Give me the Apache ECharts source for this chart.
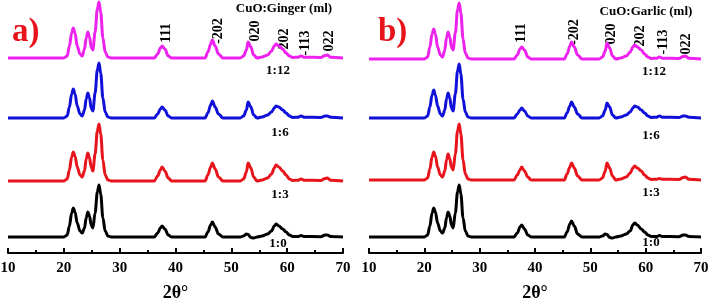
<!DOCTYPE html>
<html>
<head>
<meta charset="utf-8">
<script src="https://cdn.jsdelivr.net/npm/echarts@6/dist/echarts.min.js"></script>
<style>
  html, body { margin: 0; padding: 0; background: #fff; }
  #main { width: 708px; height: 300px; }
</style>
</head>
<body>
<div id="main"></div>
<script>
// shared 2theta sampling points (deg)
const twoTheta = [10, 20, 20.6, 21.0, 21.4, 21.7, 22.0, 22.4, 22.9, 23.3,
  23.7, 24.0, 24.3, 24.6, 24.9, 25.2, 25.6, 26.0, 26.3, 26.6,
  27.0, 27.4, 27.9, 28.5, 36.2, 36.8, 37.3, 37.6, 38.1, 38.7,
  39.3, 45.3, 45.8, 46.3, 46.6, 47.1, 47.7, 48.5, 51.6, 52.2,
  52.7, 53.0, 53.5, 54.0, 54.6, 55.5, 56.5, 57.2, 57.7, 58.0,
  58.5, 59.2, 59.8, 60.4, 61.0, 62.0, 62.5, 63.0, 66.0, 66.8,
  67.2, 67.8, 70];

const ratios = ['1:0', '1:3', '1:6', '1:12'];
const colors = ['#000000', '#e8141b', '#1010d8', '#ee22ee'];

// panel a) CuO:Ginger
const ginger_1_0 = [0, 0, 2, 11, 24, 29, 25, 14, 6, 4,
  9, 19, 25, 21, 12, 9, 24, 45, 52, 43,
  19, 6, 1, 0, 0, 4, 9, 11, 8, 2,
  0, 0, 5, 12, 15, 10, 3, 0, 0, 1,
  3, 2.5, -0.5, -1, 0, 1, 3, 6, 11, 13,
  11, 8, 5, 2, 0.5, 0.5, 1.5, 0.5, 0.3, 2,
  2, 0.5, 0];
const ginger_1_3 = [0, 0, 2, 11, 24, 29, 25, 14, 6, 4,
  10, 22, 28, 23, 14, 10, 27, 50, 57, 47,
  21, 6, 1, 0, 0, 5, 11, 14, 10, 3,
  0, 0, 6, 14, 18, 12, 4, 0, 0, 2,
  9, 18, 13, 4, 0, 1, 3, 7, 13, 16,
  14, 10, 6, 2, 0.5, 0.8, 2, 0.8, 0.5, 2.5,
  3, 0.8, 0];
const ginger_1_6 = [0, 0, 2, 11, 24, 29, 24, 12, 4, 2,
  8, 19, 25, 20, 10, 7, 25, 48, 55, 45,
  20, 6, 1, 0, 0, 4, 9, 11, 8, 2,
  0, 0, 5, 13, 17, 11, 4, 0, 0, 2,
  8, 16, 11, 3, 0, 1, 3, 6, 10, 12,
  11, 8, 5, 2, 0.5, 0.8, 2, 0.8, 0.5, 2,
  2, 0.8, 0];
const ginger_1_12 = [0, 0, 2, 12, 25, 30, 25, 12, 4, 2,
  9, 20, 26, 21, 11, 8, 26, 49, 56, 46,
  20, 6, 1, 0, 0, 4, 10, 12, 9, 2,
  0, 0, 6, 14, 18, 12, 4, 0, 0, 2,
  8, 16, 11, 3, 0, 1, 3, 7, 12, 14,
  12, 9, 5, 2, 0.5, 0.8, 2, 0.8, 0.5, 2.5,
  3, 0.8, 0];

// panel b) CuO:Garlic
const garlic_1_0 = [0, 0, 2, 11, 24, 29, 25, 14, 6, 4,
  9, 19, 25, 21, 12, 9, 24, 45, 52, 43,
  19, 6, 1, 0, 0, 4, 10, 12, 8, 2,
  0, 0, 5, 13, 16, 11, 3, 0, 0, 1,
  3, 2.5, -0.5, -1, 0, 1, 3, 6, 12, 14,
  12, 8, 5, 2, 0.5, 0.5, 1.5, 0.5, 0.3, 2,
  2, 0.5, 0];
const garlic_1_3 = [0, 0, 2, 11, 23, 28, 24, 13, 5, 3,
  9, 20, 26, 21, 13, 10, 26, 49, 56, 46,
  20, 6, 1, 0, 0, 5, 10, 13, 9, 3,
  0, 0, 6, 13, 17, 12, 4, 0, 0, 2,
  9, 17, 12, 4, 0, 1, 3, 7, 12, 14,
  12, 9, 5, 2, 0.5, 0.8, 1.5, 0.8, 0.5, 2.5,
  3, 0.8, 0];
const garlic_1_6 = [0, 0, 2, 11, 23, 28, 23, 12, 4, 2,
  8, 19, 25, 20, 10, 7, 24, 47, 54, 44,
  19, 6, 1, 0, 0, 4, 8, 10, 7, 2,
  0, 0, 5, 12, 16, 11, 4, 0, 0, 2,
  8, 15, 11, 3, 0, 1, 3, 6, 10, 12,
  11, 8, 5, 2, 0.5, 0.8, 2, 0.8, 0.5, 2,
  2, 0.8, 0];
const garlic_1_12 = [0, 0, 2, 12, 25, 30, 25, 12, 4, 2,
  9, 21, 27, 22, 12, 9, 26, 49, 56, 46,
  20, 6, 1, 0, 0, 4, 10, 12, 9, 2,
  0, 0, 5, 13, 17, 12, 4, 0, 0, 2,
  8, 16, 11, 3, 0, 1, 3, 7, 12, 14,
  12, 9, 5, 2, 0.5, 0.8, 2, 0.8, 0.5, 2.5,
  3, 0.8, 0];

const gingerCurves = [ginger_1_0, ginger_1_3, ginger_1_6, ginger_1_12];
const garlicCurves = [garlic_1_0, garlic_1_3, garlic_1_6, garlic_1_12];
// vertical offset of each pattern in the stack
const gingerOffsets = [0, 56, 119, 179];
const garlicOffsets = [0, 57, 119, 178];

const peakNames = ['111', '-202', '020', '202', '-113', '022'];

const serif = '"Liberation Serif", "Times New Roman", serif';

function xAxisOf(idx) {
  return {
    gridIndex: idx, type: 'value', min: 10, max: 70, interval: 10,
    name: '2θ°', nameLocation: 'middle', nameGap: 31,
    nameTextStyle: { fontFamily: serif, fontSize: 18, fontWeight: 'bold', color: '#000' },
    axisLine: { show: true, onZero: false, lineStyle: { color: '#000', width: 2 } },
    axisTick: { show: true, inside: true, length: 5, lineStyle: { color: '#000', width: 2 } },
    minorTick: { show: true, splitNumber: 2, length: 3, lineStyle: { color: '#000', width: 2 } },
    axisLabel: { fontFamily: serif, fontWeight: 'bold', fontSize: 15, color: '#000', margin: 8 },
    splitLine: { show: false }
  };
}
function yAxisOf(idx) {
  return { gridIndex: idx, type: 'value', min: -16, max: 237, show: false, splitLine: { show: false } };
}

let series = [];
[[gingerCurves, gingerOffsets], [garlicCurves, garlicOffsets]].forEach(function (p, gi) {
  p[0].forEach(function (vals, i) {
    series.push({
      name: ratios[i], type: 'line', xAxisIndex: gi, yAxisIndex: gi,
      showSymbol: false, smooth: 0.35, smoothMonotone: 'x',
      lineStyle: { color: colors[i], width: 3 },
      data: twoTheta.map(function (t, k) { return [t, vals[k] + p[1][i]]; })
    });
  });
});

function txt(x, y, s, size, extra) {
  return Object.assign({
    type: 'text', x: x, y: y,
    style: { text: s, fontFamily: serif, fontWeight: 'bold', fontSize: size, fill: '#000',
      textAlign: 'center', textVerticalAlign: 'middle' }
  }, extra || {});
}
function peak(x, y, s) {
  return txt(x, y, s, 14, { rotation: Math.PI / 2 });
}

let graphic = [
  { type: 'text', left: 12, top: 16, style: { text: 'a)', fontFamily: serif, fontWeight: 'bold', fontSize: 33, fill: '#e8141b' } },
  { type: 'text', left: 378, top: 16, style: { text: 'b)', fontFamily: serif, fontWeight: 'bold', fontSize: 33, fill: '#e8141b' } },
  txt(284, 9, 'CuO:Ginger (ml)', 13),
  txt(646, 12, 'CuO:Garlic (ml)', 13),
  peak(166, 33, peakNames[0]), peak(218, 31, peakNames[1]), peak(255, 31, peakNames[2]),
  peak(284, 39, peakNames[3]), peak(305, 43, peakNames[4]), peak(329, 41, peakNames[5]),
  peak(521, 33, peakNames[0]), peak(574, 32, peakNames[1]), peak(611, 34, peakNames[2]),
  peak(640, 36, peakNames[3]), peak(663, 42, peakNames[4]), peak(686, 44, peakNames[5]),
  txt(278, 71, ratios[3], 13), txt(280, 133, ratios[2], 13), txt(280, 195, ratios[1], 13), txt(278, 244, ratios[0], 13),
  txt(654, 72, ratios[3], 13), txt(651, 136, ratios[2], 13), txt(651, 193, ratios[1], 13), txt(651, 243, ratios[0], 13)
];

let option = {
  animation: false,
  grid: [
    { left: 8, right: 365, top: 0, bottom: 47, outerBoundsMode: 'none', containLabel: false },
    { left: 369, right: 7, top: 0, bottom: 47, outerBoundsMode: 'none', containLabel: false }
  ],
  xAxis: [xAxisOf(0), xAxisOf(1)],
  yAxis: [yAxisOf(0), yAxisOf(1)],
  series: series,
  graphic: graphic
};

let myChart = echarts.init(document.getElementById('main'));
myChart.setOption(option);

window.addEventListener('resize', function () {
  myChart.resize();
}, false);
</script>
</body>
</html>
